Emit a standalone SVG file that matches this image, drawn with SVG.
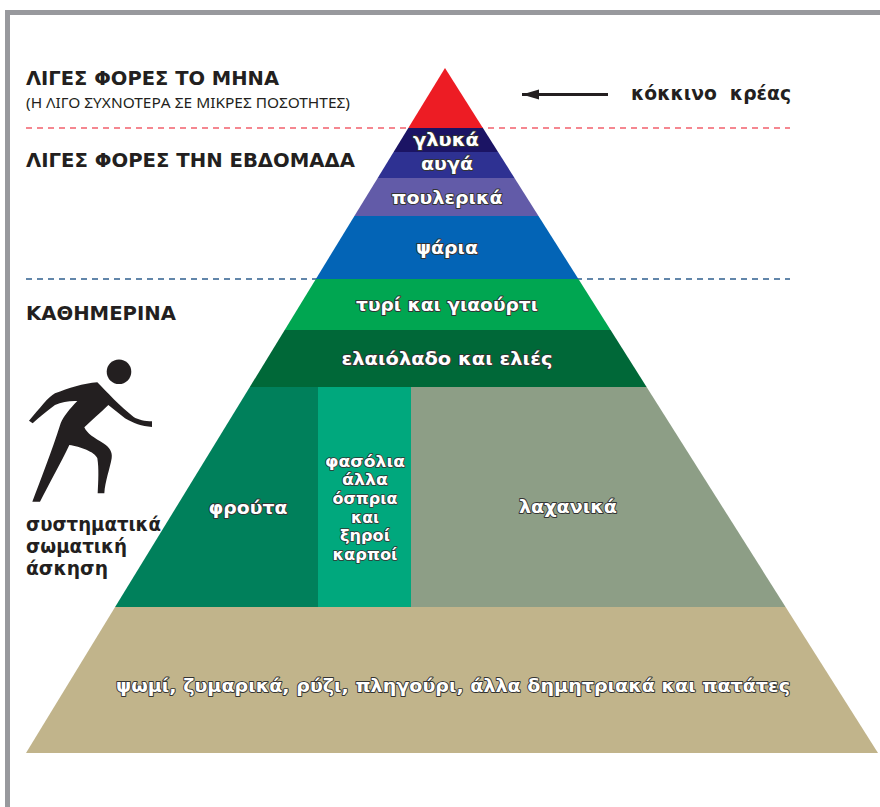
<svg xmlns="http://www.w3.org/2000/svg" width="880" height="807" viewBox="0 0 880 807">
<style>
.h{font-family:"DejaVu Sans","Noto Sans",sans-serif;font-weight:700;fill:#231f20}
.l{font-family:"DejaVu Sans","Noto Sans",sans-serif;font-weight:700;fill:#fff;stroke:#333;stroke-width:1.800;paint-order:stroke;text-anchor:middle;stroke-linejoin:round;font-size:18px}
.m{font-size:15.500px;stroke-width:1.600}
.d{stroke-width:1.3;stroke-dasharray:6 5;fill:none}
</style>
<defs><marker id="ah" markerUnits="userSpaceOnUse" markerWidth="18" markerHeight="12" refX="17" refY="6" orient="auto"><path d="M0,1 L17,6 L0,11 Z" fill="#231f20"/></marker></defs>
<rect width="880" height="807" fill="#fff"/>
<path d="M7.500,807 V12.500 H880" fill="none" stroke="#98999d" stroke-width="5"/>
<g id="connectors">
<line class="d" x1="26" y1="128" x2="790" y2="128" stroke="#f2606c"/>
<line class="d" x1="26" y1="279" x2="790" y2="279" stroke="#2f5f8f"/>
<line x1="608" y1="94.500" x2="522" y2="94.500" stroke="#231f20" stroke-width="3.200" marker-end="url(#ah)"/>
</g>
<g id="node-red"><polygon points="445,68 482.900,128 408.300,128" fill="#ed1c24"/></g>
<g id="node-sweets"><polygon points="408.300,128 482.900,128 498.100,152 393.600,152" fill="#1b1464"/><text class="l" x="446" y="146" textLength="66" lengthAdjust="spacingAndGlyphs">γλυκά</text></g>
<g id="node-eggs"><polygon points="393.600,152 498.100,152 514.500,178 377.700,178" fill="#2e3192"/><text class="l" x="447" y="170" textLength="52" lengthAdjust="spacingAndGlyphs">αυγά</text></g>
<g id="node-poultry"><polygon points="377.700,178 514.500,178 538.500,216 354.400,216" fill="#625ba8"/><text class="l" x="447" y="204" textLength="111" lengthAdjust="spacingAndGlyphs">πουλερικά</text></g>
<g id="node-fish"><polygon points="354.400,216 538.500,216 578.400,279 315.900,279" fill="#0364b6"/><text class="l" x="447" y="254" textLength="62" lengthAdjust="spacingAndGlyphs">ψάρια</text></g>
<g id="node-cheese"><polygon points="315.900,279 578.400,279 610.600,330 284.700,330" fill="#00a651"/><text class="l" x="447" y="311" textLength="182" lengthAdjust="spacingAndGlyphs">τυρί και γιαούρτι</text></g>
<g id="node-oil"><polygon points="284.700,330 610.600,330 646.600,387 249.800,387" fill="#006838"/><text class="l" x="447" y="365" textLength="211" lengthAdjust="spacingAndGlyphs">ελαιόλαδο και ελιές</text></g>
<g id="node-fruit"><polygon points="249.800,387 318,387 318,607 115.100,607" fill="#00805b"/><text class="l" x="248" y="514" textLength="79" lengthAdjust="spacingAndGlyphs">φρούτα</text></g>
<g id="node-legumes"><rect x="318" y="387" width="93" height="220" fill="#00a87d"/>
<text class="l m" x="365" y="467" textLength="80" lengthAdjust="spacingAndGlyphs">φασόλια</text>
<text class="l m" x="365" y="485" textLength="46" lengthAdjust="spacingAndGlyphs">άλλα</text>
<text class="l m" x="365" y="504" textLength="65" lengthAdjust="spacingAndGlyphs">όσπρια</text>
<text class="l m" x="365" y="523" textLength="28" lengthAdjust="spacingAndGlyphs">και</text>
<text class="l m" x="365" y="541" textLength="50" lengthAdjust="spacingAndGlyphs">ξηροί</text>
<text class="l m" x="365" y="560" textLength="65" lengthAdjust="spacingAndGlyphs">καρποί</text></g>
<g id="node-veg"><polygon points="411,387 646.600,387 785.600,607 411,607" fill="#8d9e86"/><text class="l" x="568" y="513" textLength="98" lengthAdjust="spacingAndGlyphs">λαχανικά</text></g>
<g id="node-grains"><polygon points="115.100,607 785.600,607 878,753 26,753" fill="#c1b48b"/><text class="l" x="453" y="692" textLength="674" lengthAdjust="spacingAndGlyphs">ψωμί, ζυμαρικά, ρύζι, πληγούρι, άλλα δημητριακά και πατάτες</text></g>
<g id="labels">
<text class="h" x="26" y="85" font-size="19.500" textLength="253" lengthAdjust="spacingAndGlyphs">ΛΙΓΕΣ ΦΟΡΕΣ ΤΟ ΜΗΝΑ</text>
<text x="26" y="108" font-size="13.500" fill="#231f20" font-family="Noto Sans,sans-serif" textLength="324" lengthAdjust="spacingAndGlyphs">(Η ΛΙΓΟ ΣΥΧΝΟΤΕΡΑ ΣΕ ΜΙΚΡΕΣ ΠΟΣΟΤΗΤΕΣ)</text>
<text class="h" x="26" y="167" font-size="19.500" textLength="329" lengthAdjust="spacingAndGlyphs">ΛΙΓΕΣ ΦΟΡΕΣ ΤΗΝ ΕΒΔΟΜΑΔΑ</text>
<text class="h" x="26" y="320" font-size="19.500" textLength="150" lengthAdjust="spacingAndGlyphs">ΚΑΘΗΜΕΡΙΝΑ</text>
<text class="h" x="631" y="100" font-size="19.500" xml:space="preserve" textLength="160" lengthAdjust="spacingAndGlyphs">κόκκινο  κρέας</text>
<text class="h" x="26" y="531" font-size="19.500" textLength="135" lengthAdjust="spacingAndGlyphs">συστηματικά</text>
<text class="h" x="26" y="553" font-size="19.500" textLength="101" lengthAdjust="spacingAndGlyphs">σωματική</text>
<text class="h" x="26" y="575" font-size="19.500" textLength="82" lengthAdjust="spacingAndGlyphs">άσκηση</text>
</g>
<g id="figure" fill="#231f20">
<circle cx="119" cy="371.700" r="12.300"/>
<path transform="translate(20 355) scale(.33333)" d="M27,197 C60,160 85,125 105,115 C145,100 190,85 232,82 C260,110 300,155 340,185 C355,195 375,198 396,199 L396,216 C365,214 340,205 315,190 L265,150 C240,175 215,195 193,217 C200,235 225,250 250,265 C268,277 278,290 275,310 C270,340 255,380 253,415 L233,415 C235,380 237,340 232,310 C225,290 180,275 148,270 C125,320 85,390 60,440 L37,440 C60,380 95,290 122,205 C130,185 150,160 172,138 C150,137 125,140 105,150 C85,165 60,185 38,205 Z"/>
</g>
</svg>
